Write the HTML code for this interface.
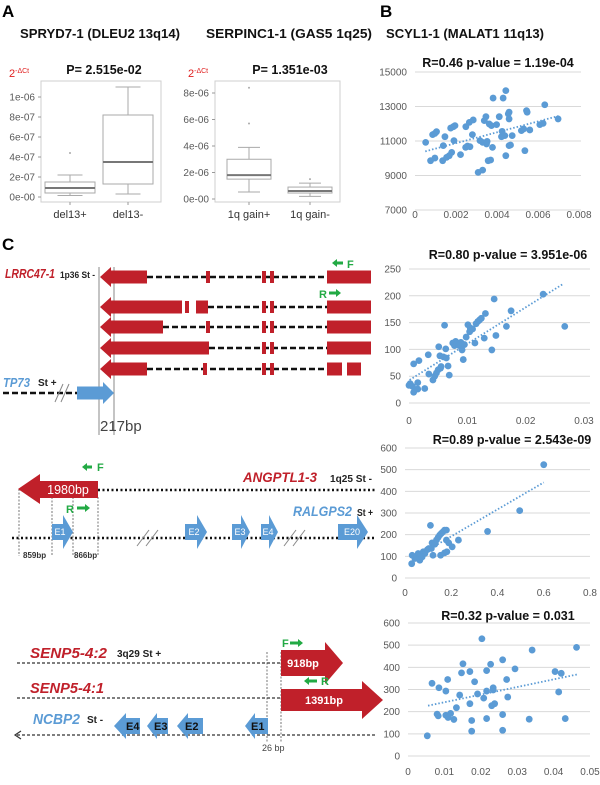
<!DOCTYPE html>
<html><head><meta charset="utf-8">
<style>
html,body{margin:0;padding:0;background:#fff;}
svg{display:block;font-family:"Liberation Sans",sans-serif;}
.t{font-weight:bold;font-size:12.5px;fill:#111;}
.ax{font-size:10px;fill:#595959;}
.bl{font-size:11px;fill:#333;}
</style></head>
<body>
<svg id="fig" width="600" height="785" viewBox="0 0 600 785" xmlns="http://www.w3.org/2000/svg">
<text x="2" y="17" font-size="17" font-weight="bold">A</text>
<text x="380" y="17" font-size="17" font-weight="bold">B</text>
<text x="2" y="250" font-size="17" font-weight="bold">C</text>
<text x="20" y="38" class="t" textLength="160" lengthAdjust="spacingAndGlyphs">SPRYD7-1 (DLEU2 13q14)</text>
<text x="206" y="38" class="t" textLength="166" lengthAdjust="spacingAndGlyphs">SERPINC1-1 (GAS5 1q25)</text>
<text x="386" y="38" class="t" textLength="158" lengthAdjust="spacingAndGlyphs">SCYL1-1 (MALAT1 11q13)</text>
<text x="104" y="74" class="t" font-size="12" text-anchor="middle">P= 2.515e-02</text>
<text x="290" y="74" class="t" font-size="12" text-anchor="middle">P= 1.351e-03</text>
<text x="9" y="77" font-size="11" fill="#e02020">2<tspan dy="-4" font-size="7">-ΔCt</tspan></text>
<text x="188" y="77" font-size="11" fill="#e02020">2<tspan dy="-4" font-size="7">-ΔCt</tspan></text>

<!-- Gene diagram 1 -->
<g>
<line x1="99" y1="267" x2="99" y2="435" stroke="#888" stroke-width="1"/>
<line x1="114" y1="267" x2="114" y2="435" stroke="#888" stroke-width="1"/>
<text x="5" y="278" font-size="13" font-weight="bold" font-style="italic" fill="#c0202a" textLength="50" lengthAdjust="spacingAndGlyphs">LRRC47-1</text>
<text x="60" y="278" font-size="9.5" font-weight="bold" fill="#222" textLength="35" lengthAdjust="spacingAndGlyphs">1p36 St -</text>
<g stroke="#111" stroke-width="2.5" stroke-dasharray="6,3">
<line x1="147" y1="277" x2="327" y2="277"/><line x1="208" y1="307" x2="327" y2="307"/>
<line x1="163" y1="327" x2="327" y2="327"/><line x1="209" y1="348" x2="327" y2="348"/>
<line x1="147" y1="369" x2="327" y2="369"/>
</g>
<g fill="#c0202a">
<polygon points="100,277 111,267 111,270.5 147,270.5 147,283.5 111,283.5 111,287"/>
<rect x="206" y="271" width="4" height="12"/><rect x="262" y="271" width="4" height="12"/><rect x="270" y="271" width="4" height="12"/><rect x="327" y="270.5" width="44" height="13"/>
<polygon points="100,307 111,297 111,300.5 182,300.5 182,313.5 111,313.5 111,317"/>
<rect x="185" y="301" width="4" height="12"/><rect x="196" y="300.5" width="12" height="13"/><rect x="262" y="301" width="4" height="12"/><rect x="270" y="301" width="4" height="12"/><rect x="327" y="300.5" width="44" height="13"/>
<polygon points="100,327 111,317 111,320.5 163,320.5 163,333.5 111,333.5 111,337"/>
<rect x="206" y="321" width="4" height="12"/><rect x="262" y="321" width="4" height="12"/><rect x="270" y="321" width="4" height="12"/><rect x="327" y="320.5" width="44" height="13"/>
<polygon points="100,348 111,338 111,341.5 209,341.5 209,354.5 111,354.5 111,358"/>
<rect x="262" y="342" width="4" height="12"/><rect x="270" y="342" width="4" height="12"/><rect x="327" y="341.5" width="44" height="13"/>
<polygon points="100,369 111,359 111,362.5 147,362.5 147,375.5 111,375.5 111,379"/>
<rect x="203" y="363" width="4" height="12"/><rect x="262" y="363" width="4" height="12"/><rect x="270" y="363" width="4" height="12"/><rect x="327" y="362.5" width="15" height="13"/><rect x="347" y="362.5" width="14" height="13"/>
</g>
<polygon points="332,263 337,259 337,261.5 343,261.5 343,264.5 337,264.5 337,267" fill="#22aa44"/>
<text x="347" y="268" font-size="11" font-weight="bold" fill="#22aa44">F</text>
<text x="319" y="298" font-size="11" font-weight="bold" fill="#22aa44">R</text>
<polygon points="341,293 336,289 336,291.5 329,291.5 329,294.5 336,294.5 336,297" fill="#22aa44"/>
<text x="3" y="387" font-size="13" font-weight="bold" font-style="italic" fill="#5b9bd5" textLength="27" lengthAdjust="spacingAndGlyphs">TP73</text>
<text x="38" y="386" font-size="10" font-weight="bold" fill="#222">St +</text>
<line x1="3" y1="393" x2="77" y2="393" stroke="#111" stroke-width="2.5" stroke-dasharray="6,3"/>
<line x1="55" y1="402" x2="63" y2="384" stroke="#888"/><line x1="61" y1="402" x2="69" y2="384" stroke="#888"/>
<polygon points="77,386.5 103,386.5 103,382 114,393 103,404 103,399.5 77,399.5" fill="#5b9bd5"/>
<text x="100" y="431" font-size="15" fill="#444">217bp</text>
</g>

<!-- Gene diagram 2 -->
<g>
<g stroke="#555" stroke-width="0.8" stroke-dasharray="2,1.5">
<line x1="19" y1="489" x2="19" y2="556"/><line x1="52" y1="497" x2="52" y2="556"/><line x1="73" y1="497" x2="73" y2="556"/><line x1="98" y1="497" x2="98" y2="556"/>
</g>
<line x1="98" y1="490" x2="375" y2="490" stroke="#111" stroke-width="2.5" stroke-dasharray="2,2.5"/>
<line x1="12" y1="538" x2="375" y2="538" stroke="#111" stroke-width="2.5" stroke-dasharray="2,2.5"/>
<polygon points="18,489 40,474 40,481 98,481 98,498 40,498 40,504" fill="#c0202a"/>
<text x="68" y="494" font-size="12.5" fill="#fff" text-anchor="middle">1980bp</text>
<polygon points="82,467 87,463 87,465.5 92,465.5 92,468.5 87,468.5 87,471" fill="#22aa44"/>
<text x="97" y="471" font-size="11" font-weight="bold" fill="#22aa44">F</text>
<text x="66" y="513" font-size="11" font-weight="bold" fill="#22aa44">R</text>
<polygon points="90,508 85,504 85,506.5 77,506.5 77,509.5 85,509.5 85,512" fill="#22aa44"/>
<text x="243" y="482" font-size="14" font-weight="bold" font-style="italic" fill="#c0202a" textLength="74" lengthAdjust="spacingAndGlyphs">ANGPTL1-3</text>
<text x="330" y="482" font-size="10" font-weight="bold" fill="#222" textLength="42" lengthAdjust="spacingAndGlyphs">1q25 St -</text>
<text x="293" y="516" font-size="14" font-weight="bold" font-style="italic" fill="#5b9bd5" textLength="59" lengthAdjust="spacingAndGlyphs">RALGPS2</text>
<text x="357" y="516" font-size="10" font-weight="bold" fill="#222" textLength="16" lengthAdjust="spacingAndGlyphs">St +</text>
<g fill="#5b9bd5">
<polygon points="52,524 63,524 63,515 73,532 63,549 63,540 52,540"/>
<polygon points="185,524 197,524 197,515 207,532 197,549 197,540 185,540"/>
<polygon points="232,524 241,524 241,515 250,532 241,549 241,540 232,540"/>
<polygon points="261,524 269,524 269,515 278,532 269,549 269,540 261,540"/>
<polygon points="338,524 357,524 357,515 368,532 357,549 357,540 338,540"/>
</g>
<g font-size="9" fill="#fff" text-anchor="middle"><text x="60" y="535">E1</text><text x="194" y="535">E2</text><text x="240" y="535">E3</text><text x="268" y="535">E4</text><text x="352" y="535">E20</text></g>
<g stroke="#888"><line x1="137" y1="546" x2="149" y2="530"/><line x1="146" y1="546" x2="158" y2="530"/><line x1="284" y1="546" x2="296" y2="530"/><line x1="293" y1="546" x2="305" y2="530"/></g>
<text x="23" y="558" font-size="8" font-weight="bold" fill="#333">859bp</text>
<text x="74" y="558" font-size="8" font-weight="bold" fill="#333">866bp</text>
</g>

<!-- Gene diagram 3 -->
<g>
<g stroke="#555" stroke-width="0.8" stroke-dasharray="2,1.5"><line x1="267" y1="652" x2="267" y2="742"/><line x1="281" y1="652" x2="281" y2="742"/></g>
<line x1="17" y1="663" x2="280" y2="663" stroke="#333" stroke-width="1.2" stroke-dasharray="3,2"/>
<line x1="17" y1="698" x2="280" y2="698" stroke="#333" stroke-width="1.2" stroke-dasharray="3,2"/>
<line x1="17" y1="735" x2="375" y2="735" stroke="#333" stroke-width="1.2" stroke-dasharray="3,2"/>
<polyline points="21,731 15,735 21,739" fill="none" stroke="#333" stroke-width="1.2"/>
<text x="30" y="658" font-size="15" font-weight="bold" font-style="italic" fill="#c0202a" textLength="77" lengthAdjust="spacingAndGlyphs">SENP5-4:2</text>
<text x="117" y="657" font-size="10" font-weight="bold" fill="#222">3q29 St +</text>
<text x="30" y="693" font-size="15" font-weight="bold" font-style="italic" fill="#c0202a" textLength="74" lengthAdjust="spacingAndGlyphs">SENP5-4:1</text>
<text x="33" y="724" font-size="15" font-weight="bold" font-style="italic" fill="#5b9bd5" textLength="47" lengthAdjust="spacingAndGlyphs">NCBP2</text>
<text x="87" y="723" font-size="10" font-weight="bold" fill="#222">St -</text>
<polygon points="281,650 325,650 325,642 343,663 325,684 325,676 281,676" fill="#c0202a"/>
<text x="303" y="667" font-size="11" font-weight="bold" fill="#fff" text-anchor="middle">918bp</text>
<polygon points="281,689 362,689 362,681 383,700 362,719 362,711 281,711" fill="#c0202a"/>
<text x="324" y="704" font-size="11" font-weight="bold" fill="#fff" text-anchor="middle">1391bp</text>
<text x="282" y="647" font-size="11" font-weight="bold" fill="#22aa44">F</text>
<polygon points="303,643 298,639 298,641.5 290,641.5 290,644.5 298,644.5 298,647" fill="#22aa44"/>
<polygon points="304,681 309,677 309,679.5 317,679.5 317,682.5 309,682.5 309,685" fill="#22aa44"/>
<text x="321" y="685" font-size="11" font-weight="bold" fill="#22aa44">R</text>
<g fill="#5b9bd5">
<polygon points="114,726 126,713 126,718 140,718 140,734 126,734 126,739"/>
<polygon points="147,726 157,713 157,718 168,718 168,734 157,734 157,739"/>
<polygon points="177,726 188,713 188,718 203,718 203,734 188,734 188,739"/>
<polygon points="245,726 255,713 255,718 268,718 268,734 255,734 255,739"/>
</g>
<g font-size="11" font-weight="bold" fill="#111"><text x="126" y="730">E4</text><text x="154" y="730">E3</text><text x="185" y="730">E2</text><text x="251" y="730">E1</text></g>
<text x="262" y="751" font-size="9" fill="#444">26 bp</text>
</g>
<g id="charts"></g>
</svg>
<script>
// ---------- Boxplot data ----------
const box1Categories = ["del13+", "del13-"];
const box1Stats = [[0.15e-7, 0.4e-7, 0.9e-7, 1.5e-7, 2.2e-7], [0.3e-7, 1.3e-7, 3.5e-7, 8.2e-7, 1.1e-6]];
const box1Outliers = [[4.4e-7], []];
const box1Ticks = [0, 2e-7, 4e-7, 6e-7, 8e-7, 1e-6];
const box1TickLabels = ["0e-00", "2e-07", "4e-07", "6e-07", "8e-07", "1e-06"];
const box2Categories = ["1q gain+", "1q gain-"];
const box2Stats = [[0.53e-6, 1.5e-6, 1.8e-6, 3.0e-6, 3.9e-6], [0.2e-6, 0.45e-6, 0.6e-6, 0.9e-6, 1.2e-6]];
const box2Outliers = [[5.7e-6, 8.4e-6], [1.5e-6]];
const box2Ticks = [0, 2e-6, 4e-6, 6e-6, 8e-6];
const box2TickLabels = ["0e-00", "2e-06", "4e-06", "6e-06", "8e-06"];

// ---------- Scatter data ----------
const scBx = [0.00052,0.00076,0.00086,0.00097,0.00105,0.00097,0.00135,0.00146,0.00138,0.00154,0.00167,0.00179,0.00174,0.00187,0.00195,0.0019,0.00222,0.00248,0.00247,0.00256,0.00265,0.00268,0.0028,0.00284,0.00308,0.0033,0.00317,0.0033,0.00338,0.00346,0.00349,0.00352,0.00357,0.00362,0.00369,0.00373,0.00378,0.00381,0.00398,0.00411,0.00422,0.00425,0.0043,0.00438,0.00443,0.00443,0.00455,0.00459,0.00459,0.00459,0.00466,0.00474,0.00519,0.0053,0.00536,0.00544,0.00547,0.0056,0.00609,0.00625,0.00633,0.00698];
const scBy = [10920,9860,11370,11440,11540,10010,9860,11250,10730,10050,10150,10340,11750,11830,11890,11020,10210,11830,10630,10710,12080,10670,11370,12220,9180,9310,11020,10920,12180,12410,10830,10980,9860,11990,9900,11890,10630,13490,11950,12410,11250,11560,13490,11310,13920,10150,12570,12280,12670,10730,10770,11310,11600,11700,10440,12760,12670,11640,11950,12020,13100,12280];
const scBtrend = [[0.0005, 10400], [0.007, 12450]];
const scBtitle = "R=0.46 p-value = 1.19e-04";
const scBxTicks = [0, 0.002, 0.004, 0.006, 0.008];
const scByTicks = [7000, 9000, 11000, 13000, 15000];

const sc1x = [0,0.0002,0.0006,0.0008,0.0008,0.0017,0.0015,0.0015,0.0027,0.0033,0.0034,0.0041,0.0044,0.0047,0.005,0.0051,0.0053,0.0054,0.0055,0.0059,0.0061,0.0063,0.0064,0.0067,0.0069,0.0075,0.0078,0.008,0.0082,0.0086,0.0089,0.0091,0.0093,0.0095,0.0098,0.0101,0.0104,0.0105,0.0109,0.0113,0.0115,0.0118,0.0121,0.0124,0.0129,0.0131,0.0142,0.0146,0.0149,0.0167,0.0175,0.023,0.0267];
const sc1y = [33,36,31,20,73,79,38,26,27,90,54,43,50,56,62,105,88,65,68,86,145,101,84,69,52,112,107,115,110,107,113,99,81,109,123,146,133,140,138,112,148,152,155,158,121,167,99,194,126,143,172,203,143];
const sc1trend = [[0.0001, 43], [0.0264, 222]];
const sc1title = "R=0.80 p-value = 3.951e-06";
const sc1xTicks = [0, 0.01, 0.02, 0.03];
const sc1yTicks = [0, 50, 100, 150, 200, 250];

const sc2x = [0.029,0.031,0.043,0.05,0.057,0.064,0.069,0.074,0.079,0.086,0.097,0.103,0.11,0.114,0.117,0.121,0.129,0.136,0.143,0.15,0.154,0.157,0.164,0.171,0.179,0.179,0.171,0.181,0.189,0.204,0.231,0.357,0.496,0.6];
const sc2y = [66,105,90,97,113,82,105,97,121,113,131,136,243,136,162,105,156,175,187,198,105,206,213,221,175,221,116,121,162,144,175,215,311,523];
const sc2trend = [[0.036, 90], [0.6, 441]];
const sc2title = "R=0.89 p-value = 2.543e-09";
const sc2xTicks = [0, 0.2, 0.4, 0.6, 0.8];
const sc2yTicks = [0, 100, 200, 300, 400, 500, 600];

const sc3x = [0.0053,0.0066,0.008,0.0083,0.0085,0.0104,0.0104,0.0109,0.011,0.0117,0.0126,0.0133,0.0142,0.0147,0.0151,0.017,0.017,0.0175,0.0175,0.0183,0.0191,0.0203,0.0208,0.0216,0.0216,0.0216,0.0227,0.023,0.0234,0.0234,0.0238,0.026,0.026,0.026,0.0271,0.0274,0.0294,0.0333,0.0341,0.0404,0.0414,0.0421,0.0432,0.0463];
const sc3y = [91,328,189,181,308,293,184,345,174,192,165,218,275,375,416,381,236,160,112,335,280,529,261,293,385,169,414,227,308,298,236,434,187,116,345,266,393,166,478,381,289,373,169,490];
const sc3trend = [[0.0055, 227], [0.0468, 369]];
const sc3title = "R=0.32 p-value = 0.031";
const sc3xTicks = [0, 0.01, 0.02, 0.03, 0.04, 0.05];
const sc3yTicks = [0, 100, 200, 300, 400, 500, 600];

const NS = "http://www.w3.org/2000/svg";
const root = document.getElementById("charts");
function mk(tag, attrs, parent) {
  const e = document.createElementNS(NS, tag);
  for (const k in attrs) e.setAttribute(k, attrs[k]);
  (parent || root).appendChild(e);
  return e;
}

function boxplot(name, cfg, cats, stats, outs, ticks, tickLabels) {
  const g = mk("g", {});
  
  
  const y = v => cfg.y0 - (v - cfg.vmin) / (cfg.vmax - cfg.vmin) * (cfg.y0 - cfg.y1);
  const frame = mk("rect", {x: cfg.left, y: 81, width: cfg.right - cfg.left, height: 121, fill: "none", stroke: "#cfcfcf"}, g);
  
  
  ticks.forEach((t, i) => {
    const tl = mk("text", {x: cfg.left - 6, y: y(t) + 3.5, "text-anchor": "end", class: "ax", fill: "#333"}, g);
    tl.textContent = tickLabels[i];
    
    
    mk("line", {x1: cfg.left - 3, x2: cfg.left, y1: y(t), y2: y(t), stroke: "#999"}, g);
  });
  cats.forEach((c, i) => {
    const cx = cfg.cx[i], hw = cfg.hw;
    const s = stats[i];
    const bg = mk("g", {}, g);
    
    
    mk("line", {x1: cx, x2: cx, y1: y(s[0]), y2: y(s[1]), stroke: "#aaa"}, bg);
    mk("line", {x1: cx, x2: cx, y1: y(s[3]), y2: y(s[4]), stroke: "#aaa"}, bg);
    mk("line", {x1: cx - hw / 2, x2: cx + hw / 2, y1: y(s[0]), y2: y(s[0]), stroke: "#aaa"}, bg);
    mk("line", {x1: cx - hw / 2, x2: cx + hw / 2, y1: y(s[4]), y2: y(s[4]), stroke: "#aaa"}, bg);
    mk("rect", {x: cx - hw, y: y(s[3]), width: 2 * hw, height: y(s[1]) - y(s[3]), fill: "#fff", stroke: "#aaa"}, bg);
    mk("line", {x1: cx - hw, x2: cx + hw, y1: y(s[2]), y2: y(s[2]), stroke: "#777", "stroke-width": 2}, bg);
    outs[i].forEach(o => mk("circle", {cx: cx, cy: y(o), r: 1, fill: "#aaa"}, bg));
    mk("line", {x1: cx, x2: cx, y1: 202, y2: 205, stroke: "#999"}, g);
    const lb = mk("text", {x: cx, y: 218, "text-anchor": "middle", class: "bl"}, g);
    lb.textContent = c;
    
    
  });
}
boxplot("boxplot-sprypd7", {left: 41, right: 161, y0: 197, y1: 97, vmin: 0, vmax: 1e-6, cx: [70, 128], hw: 25}, box1Categories, box1Stats, box1Outliers, box1Ticks, box1TickLabels);
boxplot("boxplot-serpinc1", {left: 215, right: 340, y0: 199, y1: 93, vmin: 0, vmax: 8e-6, cx: [249, 310], hw: 22}, box2Categories, box2Stats, box2Outliers, box2Ticks, box2TickLabels);

function fmt(v) { return String(v); }
function scatter(name, cfg, xs, ys, trend, title, xTicks, yTicks) {
  const g = mk("g", {});
  
  
  const X = v => cfg.x0 + (v - xTicks[0]) / (xTicks[xTicks.length - 1] - xTicks[0]) * (cfg.x1 - cfg.x0);
  const Y = v => cfg.y0 - (v - yTicks[0]) / (yTicks[yTicks.length - 1] - yTicks[0]) * (cfg.y0 - cfg.y1);
  yTicks.forEach(t => {
    const gl = mk("line", {x1: cfg.x0, x2: cfg.gx1, y1: Y(t), y2: Y(t), stroke: "#d9d9d9", "stroke-width": 1}, g);
    
    
    const tl = mk("text", {x: cfg.x0 - 8, y: Y(t) + 3.5, "text-anchor": "end", class: "ax"}, g);
    tl.textContent = fmt(t);
    
    
  });
  xTicks.forEach(t => {
    const tl = mk("text", {x: X(t), y: cfg.xl, "text-anchor": "middle", class: "ax"}, g);
    tl.textContent = fmt(t);
    
    
  });
  const tt = mk("text", {x: cfg.tx, y: cfg.ty, "text-anchor": "middle", class: "t", "font-size": "12"}, g);
  tt.textContent = title;
  
  
  xs.forEach((x, i) => {
    const c = mk("circle", {cx: X(x), cy: Y(ys[i]), r: 3.4, fill: "#5b9bd5"}, g);
    
    
  });
  const tl = mk("line", {x1: X(trend[0][0]), y1: Y(trend[0][1]), x2: X(trend[1][0]), y2: Y(trend[1][1]), stroke: "#5b9bd5", "stroke-width": 1.8, "stroke-dasharray": "1.5,2"}, g);
  
  
}
scatter("scatter-scyl1", {x0: 415, x1: 579, gx1: 581, y0: 210, y1: 72, xl: 218, tx: 498, ty: 67}, scBx, scBy, scBtrend, scBtitle, scBxTicks, scByTicks);
scatter("scatter-lrrc47", {x0: 409, x1: 584, gx1: 590, y0: 403, y1: 269, xl: 424, tx: 508, ty: 259}, sc1x, sc1y, sc1trend, sc1title, sc1xTicks, sc1yTicks);
scatter("scatter-angptl1", {x0: 405, x1: 590, gx1: 590, y0: 578, y1: 448, xl: 596, tx: 512, ty: 444}, sc2x, sc2y, sc2trend, sc2title, sc2xTicks, sc2yTicks);
scatter("scatter-senp5", {x0: 408, x1: 590, gx1: 590, y0: 756, y1: 623, xl: 775, tx: 508, ty: 620}, sc3x, sc3y, sc3trend, sc3title, sc3xTicks, sc3yTicks);
</script>
</body></html>
